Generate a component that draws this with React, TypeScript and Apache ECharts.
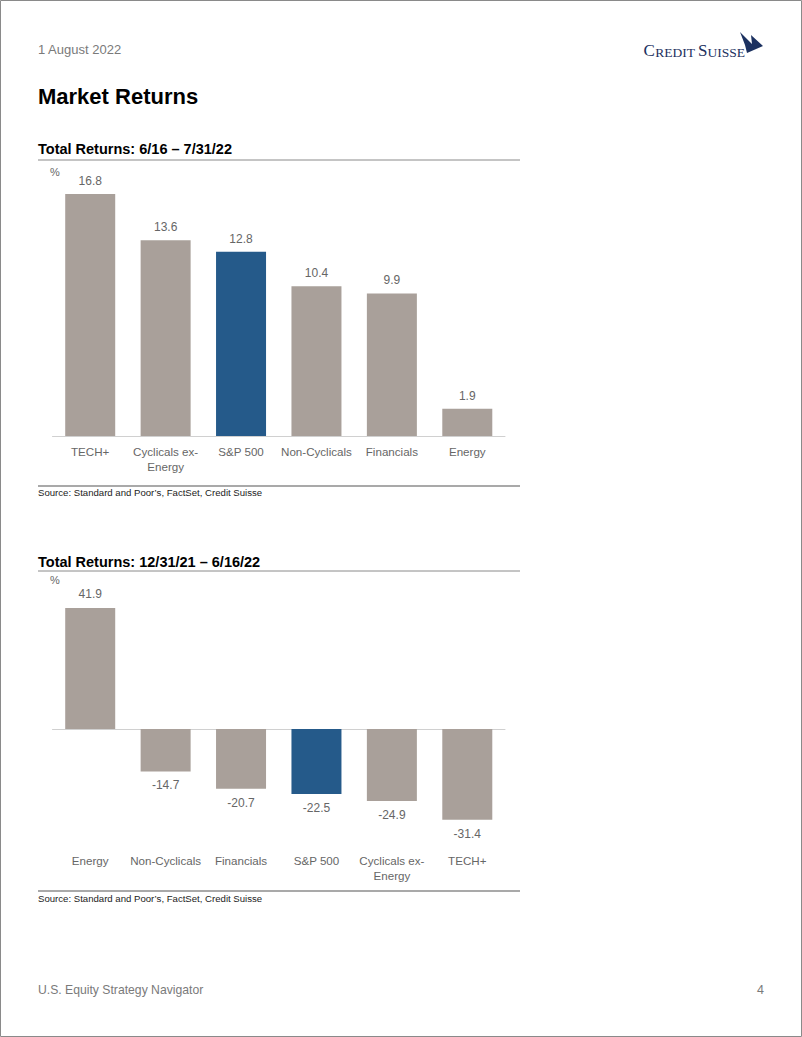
import React, { useEffect, useRef } from "react";
import * as echarts from "echarts";

const cats1 = ["TECH+", "Cyclicals ex-\nEnergy", "S&P 500", "Non-Cyclicals", "Financials", "Energy"];
const vals1 = [16.8, 13.6, 12.8, 10.4, 9.9, 1.9];
const cats2 = ["Energy", "Non-Cyclicals", "Financials", "S&P 500", "Cyclicals ex-\nEnergy", "TECH+"];
const vals2 = [41.9, -14.7, -20.7, -22.5, -24.9, -31.4];
const title1 = "Total Returns: 6/16 \u2013 7/31/22";
const title2 = "Total Returns: 12/31/21 \u2013 6/16/22";
const sourceText = "Source: Standard and Poor\u2019s, FactSet, Credit Suisse";

const FONT = '"Liberation Sans", Arial, Helvetica, sans-serif';
const SERIF = '"Liberation Serif", "DejaVu Serif", serif';
const GREY_BAR = "#a9a09a";
const BLUE_BAR = "#255a8a";
const TXT = "#666666";
const NAVY = "#1c3160";

export default function App() {
  const ref = useRef<HTMLDivElement>(null);
  useEffect(() => {
    if (!ref.current) return;
    echarts.graphic.registerShape(
      "sailLogo",
      echarts.graphic.extendPath("M0,0 L12,12 L11,3 L23,14 L7,21 L5,13 Z", {})
    );
    const chart = echarts.init(ref.current, null, { renderer: "svg" });
    const colorFor = (name: string) => (name === "S&P 500" ? BLUE_BAR : GREY_BAR);
    const s1 = 14.4;
    const s2 = 2.888;
    const text = (x: number, y: number, t: string, size: number, color: string, weight = "normal", align = "left") => ({
      type: "text",
      x,
      y,
      style: { text: t, fill: color, font: `${weight} ${size}px ${FONT}`, textAlign: align, textVerticalAlign: "middle" },
    });
    const hline = (y: number, color: string, w = 1) => ({
      type: "line",
      shape: { x1: 38, y1: y, x2: 520, y2: y },
      style: { stroke: color, lineWidth: w },
    });
    const catLabel = (margin: number) => ({
      interval: 0,
      color: TXT,
      fontSize: 11.6,
      margin,
      lineHeight: 15,
      fontFamily: FONT,
    });
    const valLabel = (position: string) => ({
      show: true,
      position,
      distance: 7,
      color: TXT,
      fontSize: 12,
      fontFamily: FONT,
      formatter: (p: any) => p.value.toFixed(1),
    });
    chart.setOption({
      animation: false,
      backgroundColor: "#ffffff",
      textStyle: { fontFamily: FONT },
      grid: [
        { left: 52.5, width: 452.5, top: 436 - 18 * s1, height: 18 * s1 },
        { left: 52.5, width: 452.5, top: 729 - 45 * s2, height: 85 * s2 },
      ],
      xAxis: [
        {
          type: "category",
          gridIndex: 0,
          data: cats1,
          axisLine: { lineStyle: { color: "#d0d0d0" } },
          axisTick: { show: false },
          axisLabel: catLabel(8),
        },
        {
          type: "category",
          gridIndex: 1,
          data: cats2,
          axisLine: { show: false, onZero: false },
          axisTick: { show: false },
          axisLabel: catLabel(8),
        },
        {
          type: "category",
          gridIndex: 1,
          data: cats2,
          axisLine: { show: true, onZero: true, lineStyle: { color: "#d0d0d0" } },
          axisTick: { show: false },
          axisLabel: { show: false },
        },
      ],
      yAxis: [
        { type: "value", gridIndex: 0, min: 0, max: 18, show: false, splitLine: { show: false } },
        { type: "value", gridIndex: 1, min: -40, max: 45, show: false, splitLine: { show: false } },
      ],
      series: [
        {
          type: "bar",
          xAxisIndex: 0,
          yAxisIndex: 0,
          barWidth: 50,
          data: vals1.map((v, i) => ({ value: v, itemStyle: { color: colorFor(cats1[i]) } })),
          label: valLabel("top"),
        },
        {
          type: "bar",
          xAxisIndex: 1,
          yAxisIndex: 1,
          barWidth: 50,
          data: vals2.map((v, i) => ({ value: v, itemStyle: { color: colorFor(cats2[i]) } })),
          label: { ...valLabel("outside"), distance: 8 },
        },
      ],
      graphic: [
        { type: "rect", shape: { x: 0.5, y: 0.5, width: 801, height: 1036 }, style: { fill: "none", stroke: "#8a8a8a", lineWidth: 1 } },
        text(38, 49, "1 August 2022", 13, "#7a7a7a"),
        text(38, 96, "Market Returns", 22, "#000000", "bold"),
        {
          type: "text",
          x: 745,
          y: 59,
          style: {
            text: "{b|C}{s|REDIT }{b|S}{s|UISSE}",
            textAlign: "right",
            textVerticalAlign: "bottom",
            rich: {
              b: { fontFamily: SERIF, fontSize: 17, fill: NAVY, verticalAlign: "bottom" },
              s: { fontFamily: SERIF, fontSize: 13.5, fill: NAVY, verticalAlign: "bottom" },
            },
          },
        },
        { type: "sailLogo", x: 740, y: 32, scaleX: 1, scaleY: 1, style: { fill: NAVY } },
        text(38, 149, title1, 14.5, "#000000", "bold"),
        hline(160, "#8a8a8a"),
        text(50, 172, "%", 11, TXT),
        hline(486, "#555555", 1.2),
        text(38, 492.5, sourceText, 9.6, "#222222"),
        text(38, 562, title2, 14.5, "#000000", "bold"),
        hline(571, "#8a8a8a"),
        text(50, 580, "%", 11, TXT),
        hline(891, "#555555", 1.2),
        text(38, 898.5, sourceText, 9.6, "#222222"),
        text(38, 990, "U.S. Equity Strategy Navigator", 12.2, "#7a7a7a"),
        text(764, 990, "4", 12.5, "#7a7a7a", "normal", "right"),
      ],
    });
    return () => chart.dispose();
  }, []);
  return <div ref={ref} style={{ position: "absolute", left: 0, top: 0, width: 802, height: 1037 }} />;
}
